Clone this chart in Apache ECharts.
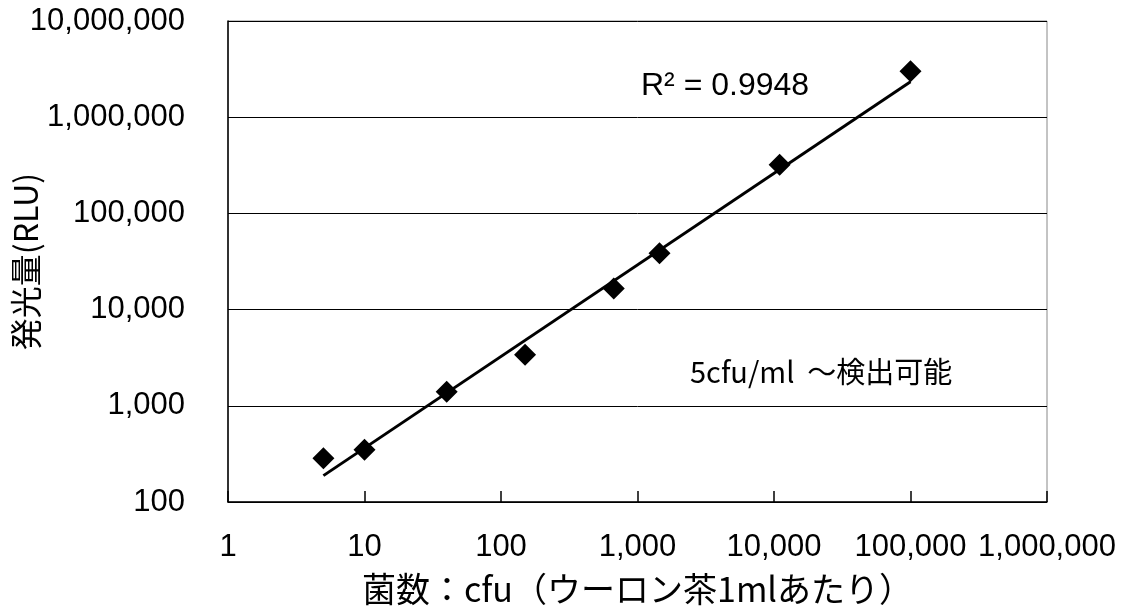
<!DOCTYPE html>
<html>
<head>
<meta charset="utf-8">
<script src="https://cdn.jsdelivr.net/npm/echarts@6/dist/echarts.min.js"></script>
<style>
html,body{margin:0;padding:0;background:#fff;}
#chart{width:1126px;height:612px;}
</style>
</head>
<body>
<div id="chart"></div>
<script>
// Data
var cfuValues = [5, 10, 40, 150, 670, 1450, 11000, 100000];
var rluValues = [285, 350, 1400, 3400, 16600, 38500, 320000, 3000000];
var trendCfu = [5, 100000];
var trendRlu = [188, 2340000];
var xAxisTitle = '菌数：cfu（ウーロン茶1mlあたり）';
var yAxisTitle = '発光量(RLU)';
var r2Label = 'R² = 0.9948';
var noteLabel = '5cfu/ml  ～検出可能';

function fmt(v) {
  return Math.round(v).toLocaleString('en-US');
}

var chart = echarts.init(document.getElementById('chart'), null, {renderer: 'canvas'});
var option = {
  animation: false,
  backgroundColor: '#fff',
  grid: {
    left: 228, top: 21, right: 79, bottom: 110,
    containLabel: false, outerBoundsMode: 'none',
    show: true, borderColor: '#888', borderWidth: 1, backgroundColor: 'transparent'
  },
  xAxis: {
    type: 'log', logBase: 10, min: 1, max: 1000000, interval: 1,
    name: xAxisTitle, nameLocation: 'middle', nameGap: 70, nameMoveOverlap: false,
    nameTextStyle: {fontFamily: 'Noto Sans CJK JP', fontSize: 34, color: '#000'},
    axisLine: {show: true, lineStyle: {color: '#000', width: 1.5}},
    axisTick: {show: true, inside: true, length: 11, lineStyle: {color: '#000', width: 1.5}},
    minorTick: {show: false},
    splitLine: {show: false},
    axisLabel: {
      formatter: fmt, margin: 30, color: '#000',
      fontFamily: 'Liberation Sans, Arial, sans-serif', fontSize: 31
    }
  },
  yAxis: {
    type: 'log', logBase: 10, min: 100, max: 10000000, interval: 1,
    name: yAxisTitle, nameLocation: 'middle', nameGap: 186, nameRotate: 90, nameMoveOverlap: false,
    nameTextStyle: {fontFamily: 'Noto Sans CJK JP', fontSize: 32, color: '#000'},
    axisLine: {show: true, lineStyle: {color: '#000', width: 1.5}},
    axisTick: {show: false},
    minorTick: {show: false},
    splitLine: {show: true, lineStyle: {color: '#000', width: 1}},
    axisLabel: {
      formatter: fmt, margin: 43, color: '#000',
      fontFamily: 'Liberation Sans, Arial, sans-serif', fontSize: 31
    }
  },
  series: [
    {
      type: 'line',
      data: trendCfu.map(function (x, i) { return [x, trendRlu[i]]; }),
      showSymbol: false,
      symbol: 'none',
      lineStyle: {color: '#000', width: 3},
      z: 2
    },
    {
      type: 'scatter',
      data: cfuValues.map(function (x, i) { return [x, rluValues[i]]; }),
      symbol: 'diamond',
      symbolSize: [22, 22],
      itemStyle: {color: '#000', opacity: 1},
      z: 3
    }
  ],
  graphic: [
    {
      type: 'text', left: 641, top: 70,
      style: {text: r2Label, fill: '#000', font: '32px "Liberation Sans", Arial, sans-serif', verticalAlign: 'middle'}
    },
    {
      type: 'text', left: 690, top: 357,
      style: {text: noteLabel, fill: '#000', font: '29px "Noto Sans CJK JP", sans-serif', verticalAlign: 'middle'}
    }
  ]
};
chart.setOption(option);
</script>
</body>
</html>
